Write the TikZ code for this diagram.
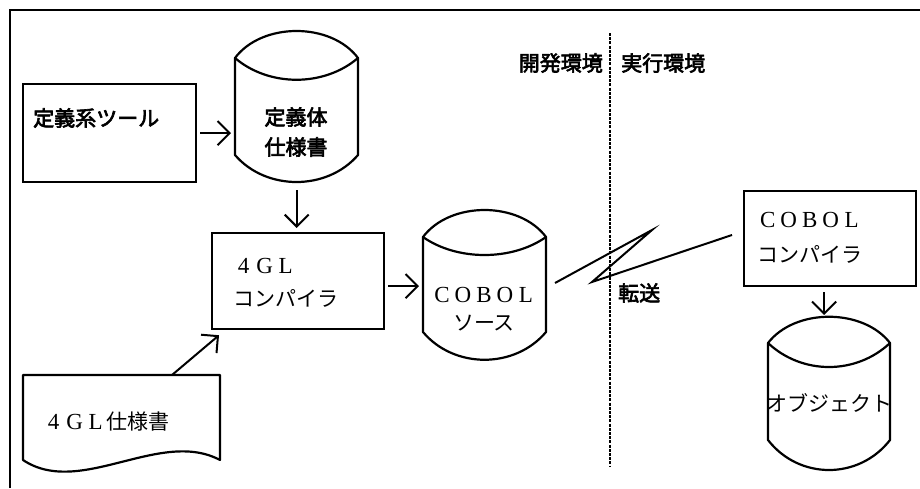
\documentclass[tikz,border=0pt]{standalone}
\usepackage{fontspec}
\usetikzlibrary{arrows.meta,calc}
\newfontfamily\jp{Noto Sans CJK JP}
\newfontfamily\jpg{Noto Sans CJK JP}[FakeBold=3]
\newfontfamily\lserif{Liberation Serif}
\newcommand\fwl[1]{\makebox[21pt]{\lserif\fontsize{23}{23}\selectfont #1}}
\tikzset{
  shapeline/.style={line width=2.2pt, line join=round},
  boxnode/.style={draw, line width=2.2pt, rectangle, anchor=north west, inner sep=0pt},
  area/.style={rectangle, anchor=north west, inner sep=0pt},
  arr/.style={line width=2pt, -{Straight Barb[length=12pt,width=24pt]}},
  goth/.style={font=\jpg\fontsize{21}{30}\selectfont, inner sep=0pt},
  minc/.style={font=\jp\fontsize{21}{30}\selectfont, inner sep=0pt},
  divider/.style={line width=2pt, dash pattern=on 3pt off 1.2pt},
  link/.style={line width=2pt, line join=miter},
}
\begin{document}
\begin{tikzpicture}[x=1pt,y=-1pt]
\useasboundingbox (0,0) rectangle (920,488);
% frame
\draw[line width=2.4pt] (10,488) -- (10,10) -- (920,10);

% boxes
\node[boxnode, minimum width=173pt, minimum height=98pt] (tool) at (22,83) {};
\node[goth, anchor=west] (tooltxt) at (33,118) {定義系ツール};

\node[boxnode, minimum width=172pt, minimum height=96pt] (gl) at (211,232) {};
\node[minc, align=left, anchor=west, font=\jp\fontsize{21}{33}\selectfont] (gltxt) at (233,283) {\fwl{4}\fwl{G}\fwl{L}\\コンパイラ};

\node[boxnode, minimum width=172pt, minimum height=95pt] (cc) at (743,190) {};
\node[minc, align=left, anchor=west, font=\jp\fontsize{21}{35}\selectfont] (cctxt) at (757,238) {\fwl{C}\fwl{O}\fwl{B}\fwl{O}\fwl{L}\\コンパイラ};

% cylinder: definition spec
\node[area, minimum width=123pt, minimum height=151pt] (defc) at (235,31) {};
\draw[shapeline] (235,58) .. controls (262,22) and (331,22) .. (358,58) -- (358,155) .. controls (327,191) and (266,191) .. (235,155) -- cycle;
\draw[shapeline] (235,58) .. controls (269,87) and (324,87) .. (358,58);
\node[goth, align=center] (deftxt) at (296,132) {定義体\\仕様書};

% cylinder: COBOL source
\node[area, minimum width=123pt, minimum height=150pt] (cobc) at (423,210) {};
\draw[shapeline] (423,237) .. controls (450,201) and (519,201) .. (546,237) -- (546,332) .. controls (515,369) and (454,369) .. (423,332) -- cycle;
\draw[shapeline] (423,237) .. controls (457,261) and (512,261) .. (546,237);
\node[minc, align=center, font=\jp\fontsize{21}{28}\selectfont] (cobtxt) at (484,309) {\fwl{C}\fwl{O}\fwl{B}\fwl{O}\fwl{L}\\ソース};

% cylinder: object
\node[area, minimum width=122pt, minimum height=153pt] (objc) at (768,317) {};
\draw[shapeline] (768,343) .. controls (795,308) and (863,308) .. (890,343) -- (890,440) .. controls (859,480) and (799,480) .. (768,440) -- cycle;
\draw[shapeline] (768,343) .. controls (802,375) and (856,375) .. (890,343);
\node[minc] (objtxt) at (829,403) {オブジェクト};

% document: 4GL spec
\node[area, minimum width=197pt, minimum height=85pt] (gspec) at (23,375) {};
\draw[shapeline] (23,375) -- (220,375) -- (220,460) .. controls (160,428) and (80,498) .. (23,460) -- cycle;
\node[minc, anchor=west] (gspectxt) at (43,422) {\fwl{4}\fwl{G}\fwl{L}仕様書};

% environment labels and divider
\coordinate (dv1) at (610,33);
\coordinate (dv2) at (610,467);
\draw[divider] (dv1) -- (dv2);
\node[goth, anchor=east] (devtxt) at (603,63) {開発環境};
\node[goth, anchor=west] (runtxt) at (621,63) {実行環境};
\node[goth, anchor=west] (xfer) at (618,293) {転送};

% connectors
\draw[arr] ($(tool.east)+(3,0)$) -- ($(tool.east -| defc.west)+(-4,0)$);
\draw[arr] ($(defc.south)+(0,8)$) -- ($(defc.south |- gl.north)+(0,-4)$);
\draw[arr] ($(gl.east)+(3,5)$) -- ($(gl.east -| cobc.west)+(-4,5)$);
\coordinate (gs) at ($(gspec.north west)+(149,0)$);
\draw[arr] (gs) -- ($(gl.south west)+(8,5)$);
\coordinate (z0) at (555,283);
\coordinate (z1) at (652,230);
\coordinate (z2) at (592,282);
\coordinate (z3) at (732,235);
\draw[link] (z0) -- (z1) -- (z2) -- (z3);
\draw[arr] ($(cc.south)+(-6,5)$) -- ($(cc.south |- objc.north)+(-6,-2)$);
\end{tikzpicture}
\end{document}
